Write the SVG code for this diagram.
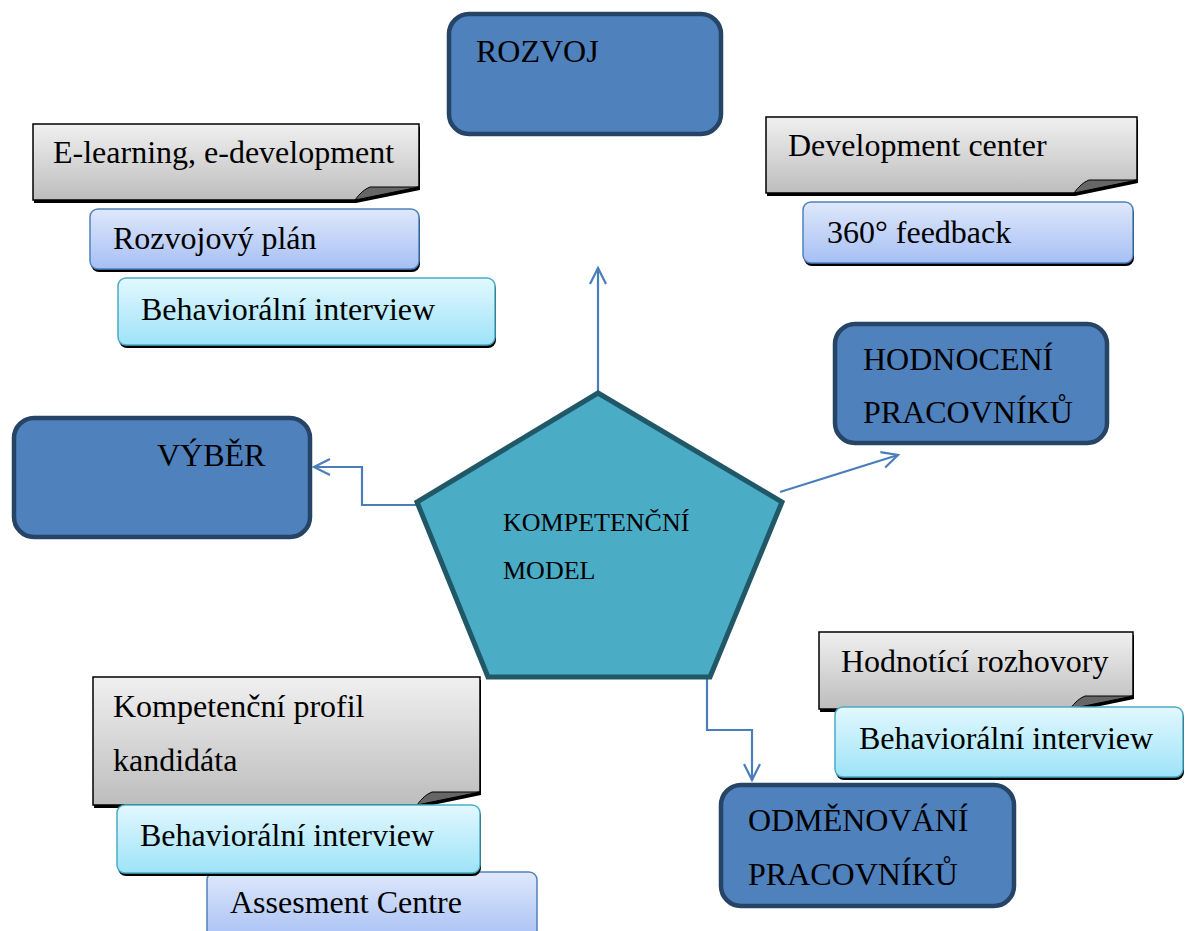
<svg xmlns="http://www.w3.org/2000/svg" width="1189" height="931" viewBox="0 0 1189 931" font-family="'Liberation Serif', 'Times New Roman', 'DejaVu Serif', serif">
<defs>
<linearGradient id="gGray" x1="0" y1="0" x2="0" y2="1"><stop offset="0" stop-color="#F0F0F0"/><stop offset="1" stop-color="#BDBDBD"/></linearGradient>
<linearGradient id="gBlue" x1="0" y1="0" x2="0" y2="1"><stop offset="0" stop-color="#DFE8FB"/><stop offset="1" stop-color="#A6BFF4"/></linearGradient>
<linearGradient id="gCyan" x1="0" y1="0" x2="0" y2="1"><stop offset="0" stop-color="#E2F8FE"/><stop offset="1" stop-color="#9EE3F8"/></linearGradient>
<marker id="arr" viewBox="0 0 24 24" refX="21" refY="12" markerWidth="24" markerHeight="24" markerUnits="userSpaceOnUse" orient="auto">
<path d="M5,4 L21,12 L5,20" fill="none" stroke="#4A7EBB" stroke-width="2.2"/>
</marker>
</defs>
<style>
text{font-family:'Liberation Serif','Times New Roman','DejaVu Serif',serif;fill:#000;}
.t32{font-size:32px;}
.t26{font-size:26px;}
.big{fill:#4F81BD;stroke:#264466;stroke-width:4.5;}
.gray{fill:url(#gGray);stroke:#000;stroke-width:1.5;}
.blue{fill:url(#gBlue);stroke:#4F81BD;stroke-width:1.5;}
.cyan{fill:url(#gCyan);stroke:#4BACC6;stroke-width:1.5;}
.shd{fill:#000;}
.fold{fill:#666;stroke:#000;stroke-width:1;}
.con{fill:none;stroke:#4A7EBB;stroke-width:2.2;marker-end:url(#arr);}
</style>
<rect width="1189" height="931" fill="#fff"/>

<g id="connectors">
<path class="con" d="M598,395 V268"/>
<path class="con" d="M418,505 H362 V467 H314"/>
<path class="con" d="M780,492 L898,455"/>
<path class="con" d="M707,678 V730 H752 V780"/>
</g>

<g id="model">
<polygon points="598,393 782,502 710,677 488,677 417,502" fill="#4BACC6" stroke="#215868" stroke-width="5" stroke-linejoin="miter"/>
<text class="t26" x="503" y="531">KOMPETENČNÍ</text>
<text class="t26" x="503" y="579">MODEL</text>
</g>

<g id="rozvoj">
<rect class="big" x="449" y="14" width="272" height="120" rx="20"/>
<text class="t32" x="476" y="62">ROZVOJ</text>
</g>

<g id="vyber">
<rect class="big" x="14" y="418" width="296" height="119" rx="20"/>
<text class="t32" x="157" y="466">VÝBĚR</text>
</g>

<g id="hodnoceni">
<rect class="big" x="835" y="324" width="272" height="119" rx="20"/>
<text class="t32" x="863" y="370">HODNOCENÍ</text>
<text class="t32" x="863" y="423">PRACOVNÍKŮ</text>
</g>

<g id="odmenovani">
<rect class="big" x="721" y="785" width="293" height="121" rx="20"/>
<text class="t32" x="748" y="831">ODMĚNOVÁNÍ</text>
<text class="t32" x="748" y="885">PRACOVNÍKŮ</text>
</g>

<g id="elearning">
<path class="shd" d="M34,127 H420 V190 L356,203 H34 Z"/>
<path class="gray" d="M33,124 H419 V187 L355,200 H33 Z"/>
<path class="fold" d="M355,200 Q362,190 370,187 L419,187 Z"/>
<text class="t32" x="53" y="163">E-learning, e-development</text>
</g>

<g id="rozvojovy-plan">
<rect class="shd" x="91" y="212" width="329" height="60" rx="8"/>
<rect class="blue" x="90" y="209" width="329" height="60" rx="8"/>
<text class="t32" x="113" y="249">Rozvojový plán</text>
</g>

<g id="behav-top">
<rect class="shd" x="119" y="281" width="377" height="67" rx="8"/>
<rect class="cyan" x="118" y="278" width="377" height="67" rx="8"/>
<text class="t32" x="141" y="320">Behaviorální interview</text>
</g>

<g id="development-center">
<path class="shd" d="M767,120 H1138 V183 L1075,196 H767 Z"/>
<path class="gray" d="M766,117 H1137 V180 L1074,193 H766 Z"/>
<path class="fold" d="M1074,193 Q1081,183 1089,180 L1137,180 Z"/>
<text class="t32" x="788" y="156">Development center</text>
</g>

<g id="feedback">
<rect class="shd" x="804" y="205" width="330" height="61" rx="8"/>
<rect class="blue" x="803" y="202" width="330" height="61" rx="8"/>
<text class="t32" x="827" y="243">360° feedback</text>
</g>

<g id="profil">
<path class="shd" d="M94,680 H481 V795 L418,808 H94 Z"/>
<path class="gray" d="M93,677 H480 V792 L417,805 H93 Z"/>
<path class="fold" d="M417,805 Q424,795 432,792 L480,792 Z"/>
<text class="t32" x="113" y="717">Kompetenční profil</text>
<text class="t32" x="113" y="771">kandidáta</text>
</g>

<g id="assesment">
<rect class="blue" x="207" y="872" width="330" height="70" rx="8"/>
<text class="t32" x="230" y="913">Assesment Centre</text>
</g>

<g id="behav-bottom">
<rect class="shd" x="118" y="808" width="363" height="68" rx="8"/>
<rect class="cyan" x="117" y="805" width="363" height="68" rx="8"/>
<text class="t32" x="140" y="846">Behaviorální interview</text>
</g>

<g id="hodnotici">
<path class="shd" d="M820,635 H1134 V699 L1071,712 H820 Z"/>
<path class="gray" d="M819,632 H1133 V696 L1070,709 H819 Z"/>
<path class="fold" d="M1070,709 Q1077,699 1085,696 L1133,696 Z"/>
<text class="t32" x="841" y="672">Hodnotící rozhovory</text>
</g>

<g id="behav-right">
<rect class="shd" x="836" y="710" width="348" height="70" rx="8"/>
<rect class="cyan" x="835" y="707" width="348" height="70" rx="8"/>
<text class="t32" x="859" y="749">Behaviorální interview</text>
</g>
</svg>
